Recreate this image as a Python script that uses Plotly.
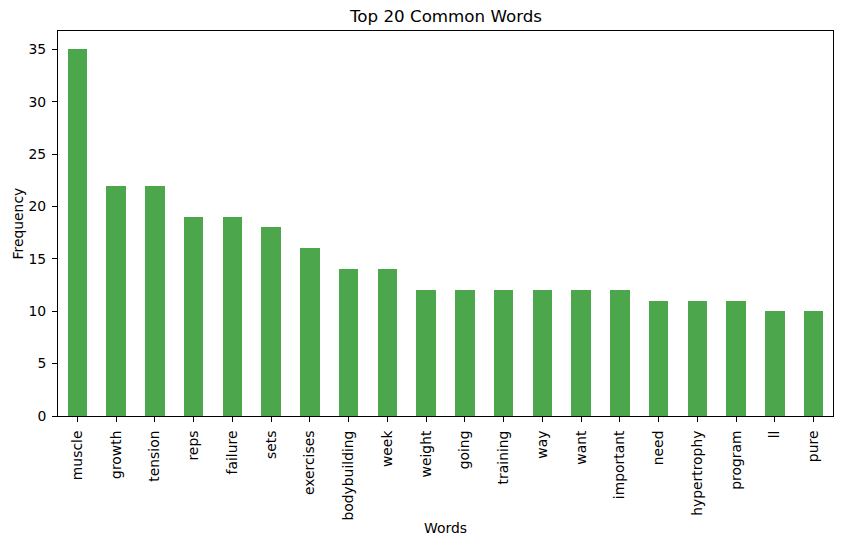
import plotly.graph_objects as go

words = ["muscle", "growth", "tension", "reps", "failure", "sets", "exercises",
         "bodybuilding", "week", "weight", "going", "training", "way", "want",
         "important", "need", "hypertrophy", "program", "ll", "pure"]
freqs = [35, 22, 22, 19, 19, 18, 16, 14, 14, 12, 12, 12, 12, 12, 12, 11, 11, 11, 10, 10]

FONT = "DejaVu Sans"
FS = 13.9

fig = go.Figure(go.Bar(
    x=list(range(len(words))), y=freqs, width=0.5,
    marker=dict(color="rgba(0,128,0,0.7)", line=dict(width=0)),
))

fig.update_layout(
    width=841, height=546,
    margin=dict(l=58, r=8, t=31, b=130),
    paper_bgcolor="white", plot_bgcolor="white",
    font=dict(family=FONT, size=FS, color="black"),
    showlegend=False,
    bargap=0,
)
fig.update_xaxes(
    range=[-0.5, len(words) - 0.5],
    tickmode="array", tickvals=list(range(len(words))), ticktext=words,
    tickangle=-90, ticks="outside", ticklen=5, tickwidth=1, tickcolor="black",
    showline=True, linecolor="black", linewidth=1, mirror=True,
    showgrid=False, zeroline=False, automargin=False, ticklabelstandoff=3,
)
fig.update_yaxes(
    range=[0, 36.75],
    tickmode="array", tickvals=[0, 5, 10, 15, 20, 25, 30, 35],
    ticks="outside", ticklen=5, tickwidth=1, tickcolor="black",
    showline=True, linecolor="black", linewidth=1, mirror=True,
    showgrid=False, zeroline=False, automargin=False, ticklabelstandoff=3,
)
fig.add_annotation(text="Top 20 Common Words", xref="paper", yref="paper",
                   x=0.5, y=1, yshift=3, yanchor="bottom", showarrow=False,
                   font=dict(family=FONT, size=16.7, color="black"))
fig.add_annotation(text="Words", xref="paper", yref="paper",
                   x=0.5, y=0, yshift=-112, yanchor="middle", showarrow=False,
                   font=dict(family=FONT, size=FS, color="black"))
fig.add_annotation(text="Frequency", xref="paper", yref="paper",
                   x=0, xshift=-41, y=0.5, xanchor="center", yanchor="middle",
                   textangle=-90, showarrow=False,
                   font=dict(family=FONT, size=FS, color="black"))

fig.write_html("out.html", config={"displayModeBar": False},
               post_script="document.body.style.margin='0px';document.body.style.padding='0px';")
